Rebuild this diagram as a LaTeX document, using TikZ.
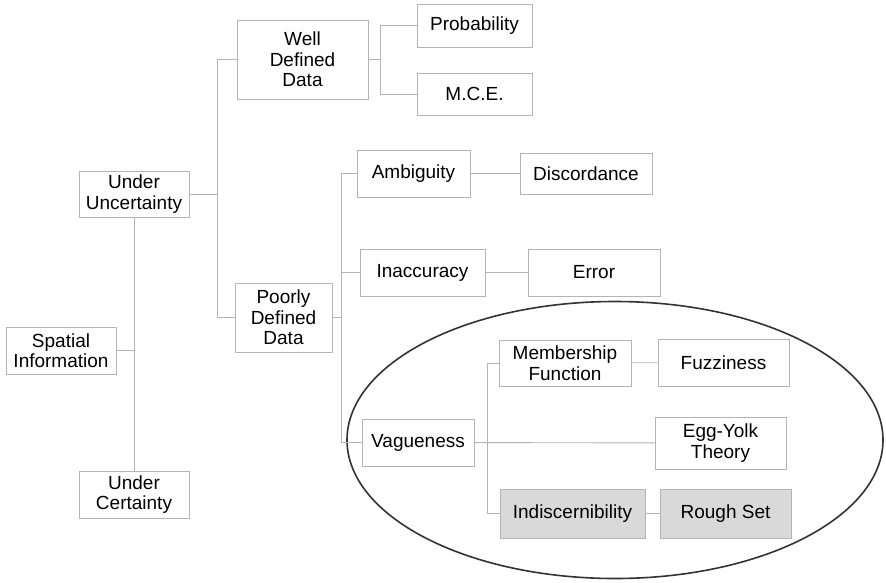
\documentclass[tikz,border=0pt]{standalone}
\usepackage{fontspec}
\setmainfont{Liberation Sans}
\definecolor{linegray}{HTML}{B4B4B4}
\definecolor{boxfill}{HTML}{D9D9D9}
\definecolor{ringgray}{HTML}{333333}
\tikzset{
  box/.style={draw=linegray, line width=0.9pt, rectangle, inner sep=0pt, align=center,
    font=\fontsize{19}{20.5}\selectfont},
  greybox/.style={box, fill=boxfill},
  link/.style={draw=linegray, line width=0.9pt}
}

\begin{document}
\begin{tikzpicture}[x=1pt,y=-1pt]
\useasboundingbox (0,0) rectangle (886,582);
% the vagueness ring
\draw [ringgray, line width=1.6pt] (615,440) ellipse [x radius=268, y radius=138.5];

\node [box, minimum width=110, minimum height=47] (spatial) at (61,350.5) {Spatial\\Information};
\node [box, minimum width=110, minimum height=46] (uu) at (134,194) {Under\\Uncertainty};
\node [box, minimum width=110, minimum height=47] (uc) at (134,494.5) {Under\\Certainty};
\node [box, minimum width=131, minimum height=79] (wdd) at (302.5,59.5) {Well\\Defined\\Data};
\node [box, minimum width=97, minimum height=69] (pdd) at (283.5,317.5) {Poorly\\Defined\\Data};
\node [box, minimum width=115, minimum height=43] (prob) at (474.5,25.5) {Probability};
\node [box, minimum width=115, minimum height=42] (mce) at (474.5,94) {M.C.E.};
\node [box, minimum width=113, minimum height=47] (amb) at (413.5,173.5) {Ambiguity};
\node [box, minimum width=132, minimum height=41] (disc) at (586,173.5) {Discordance};
\node [box, minimum width=125, minimum height=47] (inacc) at (422.5,272.5) {Inaccuracy};
\node [box, minimum width=132, minimum height=47] (err) at (594,272.5) {Error};
\node [box, minimum width=112, minimum height=47] (vag) at (418,442.5) {Vagueness};
\node [box, minimum width=132, minimum height=46] (mf) at (565,363) {Membership\\Function};
\node [box, minimum width=131, minimum height=47] (fuzz) at (723.5,362.5) {Fuzziness};
\node [box, minimum width=131, minimum height=52] (egg) at (720.5,443) {Egg-Yolk\\Theory};
\node [greybox, minimum width=145, minimum height=49] (indisc) at (572.5,513.5) {Indiscernibility};
\node [greybox, minimum width=131, minimum height=49] (rough) at (725.5,513.5) {Rough Set};

% fork points
\coordinate (f1) at (217,0);
\coordinate (f2) at (380,0);
\coordinate (f3) at (341,0);
\coordinate (f4) at (487,0);

\draw [link] (uu.south) -- (uc.north);
\draw [link] (spatial.east) -- (spatial.east -| uu.south);

\draw [link] (uu.east) -- (uu.east -| f1);
\draw [link] (wdd.west) -- (wdd.west -| f1) -- (pdd.west -| f1) -- (pdd.west);

\draw [link] (wdd.east) -- (wdd.east -| f2);
\draw [link] (prob.west) -- (prob.west -| f2) -- (mce.west -| f2) -- (mce.west);

\draw [link] (pdd.east) -- (pdd.east -| f3);
\draw [link] (amb.west) -- (amb.west -| f3) -- (vag.west -| f3) -- (vag.west);
\draw [link] (inacc.west) -- (inacc.west -| f3);
\draw [link] (amb) -- (disc);
\draw [link] (inacc) -- (err);

\draw [link] (vag) -- (egg);
\draw [link] (mf.west) -- (mf.west -| f4) -- (indisc.west -| f4) -- (indisc.west);
\draw [link] (mf) -- (fuzz);
\draw [link] (indisc) -- (rough);
\end{tikzpicture}
\end{document}
